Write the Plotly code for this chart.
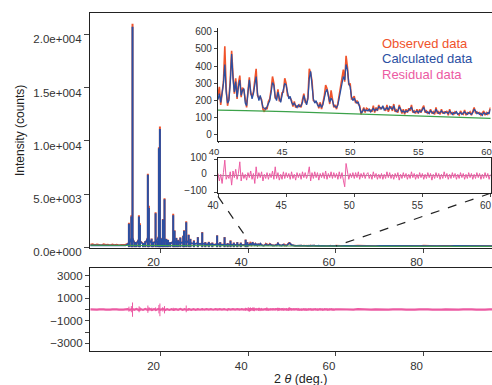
import numpy as np
import plotly.graph_objects as go

# ---------------- data ----------------
# strong reflections (2theta, observed height, calculated height)
peak_2theta = [12.78, 13.33, 13.6, 14.1, 14.5, 15.06, 15.29, 16.0, 16.5, 17.1, 17.33, 17.95, 18.3, 18.86,
               19.3, 19.62, 19.85, 20.2, 20.53, 20.9, 21.3, 21.7, 22.2, 22.88, 23.19, 23.6, 24.0, 24.5,
               25.17, 25.35, 25.85, 26.4, 26.8, 27.6, 28.5, 29.5, 30.2, 31.0, 31.8, 32.9, 33.6, 34.6,
               35.3, 35.95, 36.7, 37.5, 38.3, 39.4, 39.8]
peak_obs = [2300, 3000, 21000, 500, 450, 3000, 2250, 400, 600, 6900, 3900, 820, 500, 3300,
            600, 9400, 11350, 800, 2650, 4600, 800, 700, 500, 3150, 1600, 900, 700, 950,
            1100, 1600, 2450, 1200, 800, 650, 970, 1440, 500, 520, 450, 1130, 500, 970,
            400, 650, 450, 500, 450, 720, 500]
peak_calc = [2200, 2900, 20700, 480, 430, 2900, 2100, 380, 560, 6800, 3700, 800, 480, 3200,
             580, 9300, 11100, 760, 2600, 4500, 780, 680, 480, 3000, 1550, 880, 650, 900,
             1050, 1550, 2350, 1150, 780, 620, 940, 1400, 480, 500, 430, 1100, 480, 940,
             380, 620, 430, 480, 430, 700, 480]

# residual extremes at the strong reflections
res_peak_2theta = [12.78, 13.33, 13.6, 15.1, 15.3, 17.1, 17.35, 18.0, 18.86, 19.62, 19.85, 20.5, 20.9,
                   22.9, 23.2, 25.85, 26.4, 28.5, 29.5, 32.9, 35.3, 37.9, 39.4, 40.0, 40.5, 41.0]
res_peak_hi = [250, 300, 620, 280, 200, 350, 200, 150, 180, 400, 530, 200, 300,
               150, 100, 350, 100, 80, 100, 80, 40, 120, 150, 200, 180, 150]
res_peak_lo = [-200, -250, -650, -250, -150, -300, -150, -120, -150, -350, -600, -180, -350,
               -120, -80, -250, -100, -80, -80, -60, -150, -60, -120, -150, -120, -100]

# low-level profile 4-40 deg, 0.5 deg steps
low_start, low_step = 4.0, 0.5
obs_low = [260, 300, 210, 280, 240, 190, 300, 230, 260, 200, 280, 220, 250, 190, 240, 220, 260,
           330, 540, 950, 480, 380, 730, 540, 320, 380, 840,
           640, 430, 480, 530, 950, 850, 640, 730, 420, 380,
           430, 640, 480, 530, 430, 480, 540, 590, 420, 370,
           330, 350, 400, 320, 370, 300, 280, 330, 270, 260,
           280, 320, 270, 250, 300, 240, 230, 250, 220, 230,
           240, 220, 210, 230, 250, 230]
calc_low = [180, 175, 170, 170, 165, 165, 160, 160, 160, 155, 155, 155, 150, 150, 155, 160, 170,
            300, 500, 900, 450, 350, 700, 500, 300, 350, 800,
            600, 400, 450, 500, 900, 800, 600, 700, 400, 350,
            400, 600, 450, 500, 400, 450, 500, 550, 400, 350,
            300, 320, 380, 300, 350, 280, 260, 300, 250, 240,
            260, 300, 250, 230, 280, 220, 210, 230, 200, 210,
            220, 200, 190, 210, 230, 205]
res_low = [10, -15, 20, -10, 15, -20, 10, -15, 20, -10, 15, -20, 10, -15, 20, -10, 15,
           30, -40, 50, -30, 40, -50, 30, -40, 50, -30,
           40, -50, 30, -40, 50, -30, 40, -50, 30, -40,
           30, -40, 30, -30, 40, -30, 30, -40, 30, -30,
           20, -30, 20, -25, 30, -20, 25, -20, 20, -25,
           20, -20, 25, -20, 20, -25, 20, -20, 25, -20,
           20, -25, 20, -20, 25, -20]

# zoomed region 40-60 deg, 0.1 deg steps
zoom_start, zoom_step = 40.0, 0.1
obs_zoom = [230, 280, 175, 250, 310, 515, 270, 170, 215, 320,
            490, 350, 240, 330, 210, 300, 345, 220, 275, 260,
            200, 160, 255, 335, 240, 225, 250, 310, 385, 230,
            215, 220, 205, 150, 135, 160, 150, 195, 210, 265,
            340, 300, 215, 215, 265, 200, 200, 245, 250, 330,
            300, 230, 225, 215, 200, 165, 195, 160, 170, 165,
            175, 160, 205, 240, 190, 185, 220, 385, 360, 315,
            200, 195, 190, 185, 155, 190, 150, 185, 225, 290,
            270, 235, 180, 260, 205, 160, 175, 150, 185, 230,
            270, 330, 380, 310, 460, 395, 290, 300, 210, 215,
            225, 185, 200, 180, 170, 120, 145, 160, 130, 155,
            150, 140, 145, 135, 170, 130, 160, 140, 175, 150,
            160, 160, 155, 140, 175, 135, 155, 165, 140, 180,
            135, 145, 130, 175, 150, 125, 150, 120, 150, 130,
            155, 140, 175, 130, 140, 125, 150, 125, 150, 130,
            155, 170, 130, 140, 125, 130, 150, 125, 135, 120,
            160, 125, 135, 120, 150, 125, 135, 130, 140, 115,
            150, 125, 130, 120, 135, 130, 125, 115, 140, 125,
            120, 145, 115, 130, 125, 135, 115, 140, 160, 130,
            135, 125, 130, 115, 125, 140, 115, 130, 120, 135,
            160]
calc_zoom = [205, 240, 190, 235, 300, 410, 250, 185, 200, 300,
             470, 330, 250, 310, 220, 280, 320, 230, 260, 270,
             185, 170, 240, 320, 250, 210, 240, 290, 340, 240,
             200, 230, 195, 160, 155, 150, 165, 180, 200, 250,
             305, 290, 220, 200, 250, 215, 190, 230, 260, 300,
             290, 240, 210, 225, 190, 175, 185, 170, 160, 175,
             165, 170, 190, 230, 200, 175, 210, 330, 370, 300,
             210, 185, 200, 175, 165, 180, 160, 175, 210, 250,
             265, 220, 190, 215, 200, 170, 165, 160, 175, 215,
             260, 310, 340, 320, 410, 380, 300, 280, 220, 200,
             215, 195, 185, 190, 160, 130, 135, 150, 140, 145,
             140, 150, 135, 145, 155, 140, 150, 145, 165, 160,
             150, 170, 145, 150, 160, 145, 165, 155, 150, 170,
             145, 135, 140, 165, 145, 135, 140, 130, 140, 135,
             145, 150, 160, 140, 130, 135, 140, 130, 140, 135,
             145, 160, 140, 130, 135, 125, 140, 135, 125, 130,
             150, 135, 125, 130, 140, 130, 125, 135, 130, 125,
             140, 130, 120, 130, 125, 135, 120, 125, 130, 120,
             125, 135, 125, 120, 130, 125, 120, 130, 150, 140,
             125, 130, 120, 125, 115, 130, 125, 120, 130, 125,
             150]
res_zoom = [15, -30, 10, -45, 20, 95, -20, 5, -15, 25,
            -55, 30, -10, 40, -20, 15, 85, -30, 20, -15,
            10, -25, 20, -10, 30, -20, 15, -45, 55, -15,
            20, -10, 25, -30, 10, -15, 20, -20, 15, -10,
            30, -20, 55, -15, 20, -25, 10, -20, 25, -15,
            20, -10, 15, -20, 25, -15, 10, -25, 20, -10,
            15, -20, 25, -10, 20, -15, 10, 55, -30, 20,
            -15, 25, -10, 20, -25, 15, -10, 20, -15, 30,
            -20, 15, -10, 25, -15, 20, -10, 15, -20, 25,
            -15, 20, -25, -65, 75, 30, -20, 15, -10, 20,
            -15, 20, -10, 25, -20, 15, -10, 20, -15, 10,
            20, -15, 10, -20, 25, -10, 15, -20, 10, -15,
            15, -20, 10, -15, 25, -10, 20, -15, 10, -20,
            15, -10, 20, -25, 10, -15, 20, -10, 15, -20,
            10, -15, 25, -10, 15, -20, 10, -15, 20, -10,
            15, -20, 10, -15, 20, -10, 15, -25, 10, -15,
            20, -10, 15, -20, 10, -15, 25, -10, 15, -20,
            10, -15, 20, -10, 15, -20, 10, -15, 20, -10,
            15, -20, 10, -15, 20, -10, 15, -20, 10, -15,
            20, -10, 15, -20, 10, -15, 20, -10, 15, -20,
            10]

# high-angle tail 61-96 deg, 1 deg steps
tail_start, tail_step = 61.0, 1.0
obs_tail = [150, 125, 140, 130, 160, 135, 125, 150, 120, 145,
            130, 155, 120, 140, 135, 150, 125, 145, 120, 160,
            130, 140, 115, 130, 125, 140, 125, 130, 120, 130,
            125, 120, 130, 125, 120, 125]
calc_tail = [125, 130, 120, 135, 125, 140, 130, 120, 125, 135,
             130, 120, 125, 130, 140, 125, 120, 130, 125, 120,
             125, 135, 120, 115, 125, 120, 130, 120, 115, 125,
             120, 115, 125, 120, 115, 120]
res_tail = [20, -10, 15, -15, 25, -10, 10, -20, 15, -10,
            20, -15, 10, -20, 15, -10, 20, -15, 10, -20,
            15, -10, 20, -15, 10, -15, 20, -10, 15, -20,
            10, -15, 20, -10, 15, -10]

# refined background
bg_2theta = [4, 10, 20, 30, 40, 42, 45, 48, 50, 52, 55, 58, 60, 70, 80, 96]
bg_counts = [190, 175, 165, 158, 148, 142, 136, 128, 120, 114, 107, 100, 96, 92, 88, 84]

# tick labels
main_ytickvals = [0, 5000, 10000, 15000, 20000]
main_yticktext = ["0.0e+000", "5.0e+003", "1.0e+004", "1.5e+004", "2.0e+004"]
res_ytickvals = [-3000, -2000, -1000, 0, 1000, 2000, 3000]
res_yticktext = ["\u22123000", "", "\u22121000", "", "1000", "", "3000"]
main_xtickvals = [20, 40, 60, 80]
zoom_xtickvals = [40, 45, 50, 55, 60]
zoom_ytickvals = [0, 100, 200, 300, 400, 500, 600]
zres_ytickvals = [-100, 0, 100]
zres_yticktext = ["\u2212100", "0", "100"]
legend_labels = ["Observed data", "Calculated data", "Residual data"]

# ---------------- build ----------------
def grid(start, step, n):
    return [round(start + step * i, 3) for i in range(n)]

low_x = grid(low_start, low_step, len(obs_low))
zoom_x = grid(zoom_start, zoom_step, len(obs_zoom))
tail_x = grid(tail_start, tail_step, len(obs_tail))

full_x = low_x + zoom_x + tail_x
full_obs = obs_low + obs_zoom + obs_tail
full_calc = calc_low + calc_zoom + calc_tail
full_res = res_low + res_zoom + res_tail


def stems(xs, y0s, y1s):
    sx, sy = [], []
    for x, a, b in zip(xs, y0s, y1s):
        sx += [x, x, None]
        sy += [a, b, None]
    return sx, sy


OBS = "#f0532b"
CALC = "#2b4fa2"
RES = "#ec5aa2"
BGC = "#3ca24a"
INK = "#333333"
FONT = "Liberation Sans, Arial, sans-serif"

fig = go.Figure()

# main panel
fig.add_trace(go.Scatter(x=full_x, y=full_obs, mode="lines", line=dict(color=OBS, width=1.6),
                         xaxis="x", yaxis="y", hoverinfo="skip"))
sx, sy = stems(peak_2theta, [0] * len(peak_2theta), peak_obs)
fig.add_trace(go.Scatter(x=sx, y=sy, mode="lines", line=dict(color=OBS, width=2),
                         xaxis="x", yaxis="y", hoverinfo="skip"))
fig.add_trace(go.Scatter(x=full_x, y=full_calc, mode="lines", line=dict(color=CALC, width=1.6),
                         xaxis="x", yaxis="y", hoverinfo="skip"))
sx, sy = stems(peak_2theta, [0] * len(peak_2theta), peak_calc)
fig.add_trace(go.Scatter(x=sx, y=sy, mode="lines", line=dict(color=CALC, width=2),
                         xaxis="x", yaxis="y", hoverinfo="skip"))
fig.add_trace(go.Scatter(x=bg_2theta, y=bg_counts, mode="lines", line=dict(color=BGC, width=1),
                         xaxis="x", yaxis="y", hoverinfo="skip"))

# residual panel
fig.add_trace(go.Scatter(x=full_x, y=full_res, mode="lines", line=dict(color=RES, width=2.2),
                         xaxis="x2", yaxis="y2", hoverinfo="skip"))
sx, sy = stems(res_peak_2theta, res_peak_lo, res_peak_hi)
fig.add_trace(go.Scatter(x=sx, y=sy, mode="lines", line=dict(color=RES, width=1),
                         xaxis="x2", yaxis="y2", hoverinfo="skip"))

# inset: observed / calculated
fig.add_trace(go.Scatter(x=zoom_x, y=obs_zoom, mode="lines", line=dict(color=OBS, width=1.6),
                         xaxis="x3", yaxis="y3", hoverinfo="skip"))
fig.add_trace(go.Scatter(x=zoom_x, y=calc_zoom, mode="lines", line=dict(color=CALC, width=1.3),
                         xaxis="x3", yaxis="y3", hoverinfo="skip"))
fig.add_trace(go.Scatter(x=bg_2theta, y=bg_counts, mode="lines", line=dict(color=BGC, width=1.2),
                         xaxis="x3", yaxis="y3", hoverinfo="skip"))

# inset: residual
fig.add_trace(go.Scatter(x=zoom_x, y=res_zoom, mode="lines", line=dict(color=RES, width=1),
                         xaxis="x4", yaxis="y4", hoverinfo="skip"))

W, H = 492, 385
MAIN_X = [90 / W, 1.0]
MAIN_Y = [1 - 247.5 / H, 1 - 13 / H]
RES_Y = [1 - 350.7 / H, 1 - 268 / H]
INS_X = [218 / W, 490.5 / W]
INS1_Y = [1 - 141 / H, 1 - 28 / H]
INS2_Y = [1 - 193.3 / H, 1 - 158.3 / H]
MAIN_XR = [3.9, 95.6]
MAIN_YR = [-20, 22000]

tick_main = dict(family=FONT, size=11.5, color=INK)
tick_ins = dict(family=FONT, size=10, color=INK)
tick_ins_x = dict(family=FONT, size=9.5, color=INK)
ax_common = dict(showgrid=False, zeroline=False, showline=True, linecolor="#222222", linewidth=1.2,
                 ticks="outside", tickcolor="#444444", automargin=False, fixedrange=True,
                 ticklabeloverflow="allow")

fig.update_layout(
    width=W, height=H, template="none",
    margin=dict(l=0, r=0, t=0, b=0),
    paper_bgcolor="white", plot_bgcolor="rgba(0,0,0,0)",
    showlegend=False,
    xaxis=dict(domain=MAIN_X, range=MAIN_XR, anchor="y", mirror=True, tickvals=main_xtickvals,
               ticklen=4, tickfont=tick_main, ticklabelshift=-7, **ax_common),
    yaxis=dict(domain=MAIN_Y, range=MAIN_YR, anchor="x", tickvals=main_ytickvals,
               ticktext=main_yticktext, ticklen=5, tickfont=tick_main, ticklabelshift=5, **ax_common),
    xaxis2=dict(domain=MAIN_X, range=MAIN_XR, anchor="y2", mirror=True, tickvals=main_xtickvals,
                ticklen=4, tickfont=tick_main, ticklabelshift=-7, **ax_common),
    yaxis2=dict(domain=RES_Y, range=[-3660, 3680], anchor="x2", tickvals=res_ytickvals,
                ticktext=res_yticktext, ticklen=4, tickfont=tick_main, **ax_common),
    xaxis3=dict(domain=INS_X, range=[40, 60], anchor="y3", tickvals=zoom_xtickvals,
                ticklen=1, tickfont=tick_ins_x, ticklabelshift=-4, **ax_common),
    yaxis3=dict(domain=INS1_Y, range=[-35, 622], anchor="x3", tickvals=zoom_ytickvals,
                ticklen=3, tickfont=tick_ins, **ax_common),
    xaxis4=dict(domain=INS_X, range=[40, 60], anchor="y4", mirror=True, tickvals=zoom_xtickvals,
                ticklen=3, tickfont=tick_ins, ticklabelshift=-5, **ax_common),
    yaxis4=dict(domain=INS2_Y, range=[-104, 106], anchor="x4", mirror=True, tickvals=zres_ytickvals,
                ticktext=zres_yticktext, ticklen=3, tickfont=tick_ins, ticklabelshift=-2,
                ticklabelstandoff=5, **ax_common),
)
fig.update_yaxes(selector=dict(anchor="x4"), zeroline=True, zerolinecolor="#9a9a9a", zerolinewidth=1)


def main_px(v):
    return MAIN_X[0] + (v - MAIN_XR[0]) / (MAIN_XR[1] - MAIN_XR[0]) * (MAIN_X[1] - MAIN_X[0])


def main_py(v):
    return MAIN_Y[0] + (v - MAIN_YR[0]) / (MAIN_YR[1] - MAIN_YR[0]) * (MAIN_Y[1] - MAIN_Y[0])


# connectors from zoom box to main axis
dash = dict(color="#222222", width=1.2, dash="dash")
fig.add_shape(type="line", xref="paper", yref="paper", x0=INS_X[0], y0=INS2_Y[0] - 0.008,
              x1=main_px(zoom_x[0]), y1=main_py(650), line=dash)
fig.add_shape(type="line", xref="paper", yref="paper", x0=INS_X[1], y0=INS2_Y[0],
              x1=main_px(zoom_x[-1]), y1=main_py(120), line=dash)

# legend texts
for i, (lab, col) in enumerate(zip(legend_labels, [OBS, CALC, RES])):
    fig.add_annotation(xref="paper", yref="paper", x=380 / W, y=1 - (43 + 15.5 * i) / H,
                       xanchor="left", yanchor="middle", text=lab, showarrow=False,
                       font=dict(family=FONT, size=13, color=col))

# axis titles
fig.add_annotation(xref="paper", yref="paper", x=20 / W, y=1 - 131 / H, text="Intensity (counts)",
                   textangle=-90, showarrow=False, xanchor="center", yanchor="middle",
                   font=dict(family=FONT, size=12, color="#222222"))
fig.add_annotation(xref="paper", yref="paper", x=300 / W, y=1 - 379 / H,
                   text="2 <i>\u03b8</i> (deg.)", showarrow=False, xanchor="center",
                   yanchor="middle", font=dict(family=FONT, size=12.5, color="#222222"))

fig.write_html("out.html", config={"displayModeBar": False},
               post_script="document.body.style.margin='0';document.body.style.overflow='hidden';")
